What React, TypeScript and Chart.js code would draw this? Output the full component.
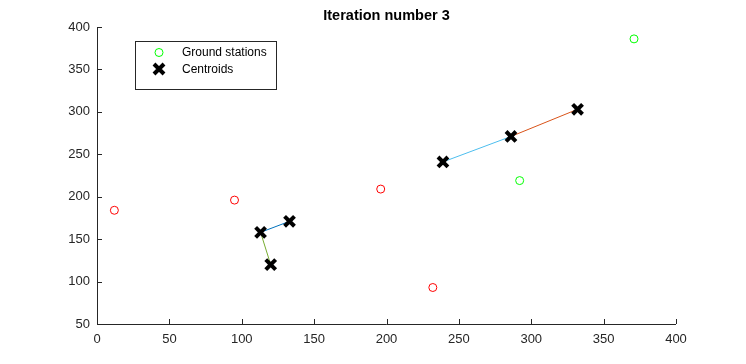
import React, { useEffect, useRef } from "react";
import { Chart, registerables } from "chart.js";

Chart.register(...registerables);

const TITLE = "Iteration number 3";
const X_TICKS = [0, 50, 100, 150, 200, 250, 300, 350, 400];
const Y_TICKS = [50, 100, 150, 200, 250, 300, 350, 400];

// Unlabelled (red) stations
const redX = [12, 95, 196, 232];
const redY = [184, 196, 209, 93];

// Ground stations (green)
const greenX = [292, 371];
const greenY = [219, 386];

// Centroids
const centroidX = [113, 133, 120, 239, 286, 332];
const centroidY = [158, 171, 120, 241, 271, 303];

// Centroid movement segments: [fromIndex, toIndex]
const segFrom = [0, 0, 3, 4];
const segTo = [1, 2, 4, 5];
const segColors = ["#0072BD", "#77AC30", "#4DBEEE", "#D95319"];

const LEGEND_LABELS = ["Ground stations", "Centroids"];

const FONT = "'Liberation Sans', Arial, Helvetica, sans-serif";
const AXIS_COLOR = "#262626";

const pts = (xs: number[], ys: number[]) => xs.map((x, i) => ({ x, y: ys[i] }));

const decorPlugin = {
  id: "decor",
  afterDraw(chart: any) {
    const ctx = chart.ctx;
    const xs = chart.scales.x;
    const ys = chart.scales.y;
    const area = chart.chartArea;
    ctx.save();
    // axes
    ctx.strokeStyle = AXIS_COLOR;
    ctx.lineWidth = 1;
    ctx.beginPath();
    ctx.moveTo(area.left + 0.5, area.top);
    ctx.lineTo(area.left + 0.5, area.bottom + 0.5);
    ctx.lineTo(area.right, area.bottom + 0.5);
    ctx.stroke();
    // inward ticks
    ctx.beginPath();
    X_TICKS.forEach((v) => {
      const px = Math.round(xs.getPixelForValue(v)) + 0.5;
      ctx.moveTo(px, area.bottom);
      ctx.lineTo(px, area.bottom - 5);
    });
    Y_TICKS.forEach((v) => {
      const py = Math.round(ys.getPixelForValue(v)) + 0.5;
      ctx.moveTo(area.left, py);
      ctx.lineTo(area.left + 5, py);
    });
    ctx.stroke();

    // title
    ctx.fillStyle = "#000";
    ctx.font = `bold 14.5px ${FONT}`;
    ctx.textAlign = "center";
    ctx.textBaseline = "middle";
    ctx.fillText(TITLE, (area.left + area.right) / 2, 16);

    // legend
    const bx = 135.5, by = 41.5, bw = 141, bh = 48;
    ctx.fillStyle = "#fff";
    ctx.fillRect(bx, by, bw, bh);
    ctx.strokeStyle = AXIS_COLOR;
    ctx.lineWidth = 1;
    ctx.strokeRect(bx, by, bw, bh);
    // green circle
    ctx.strokeStyle = "#00FF00";
    ctx.beginPath();
    ctx.arc(159, 52.5, 4, 0, Math.PI * 2);
    ctx.stroke();
    // X marker
    ctx.strokeStyle = "#000";
    ctx.lineWidth = 4;
    ctx.lineCap = "butt";
    ctx.beginPath();
    ctx.moveTo(154, 64);
    ctx.lineTo(164, 74);
    ctx.moveTo(164, 64);
    ctx.lineTo(154, 74);
    ctx.stroke();
    ctx.fillStyle = "#000";
    ctx.font = `12px ${FONT}`;
    ctx.textAlign = "left";
    ctx.textBaseline = "middle";
    ctx.fillText(LEGEND_LABELS[0], 182, 53);
    ctx.fillText(LEGEND_LABELS[1], 182, 70);
    ctx.restore();
  },
};

export default function App() {
  const ref = useRef<HTMLCanvasElement>(null);
  useEffect(() => {
    if (!ref.current) return;
    const lineSets = segFrom.map((f, i) => ({
      type: "scatter" as const,
      label: "seg" + i,
      data: [
        { x: centroidX[f], y: centroidY[f] },
        { x: centroidX[segTo[i]], y: centroidY[segTo[i]] },
      ],
      showLine: true,
      borderColor: segColors[i],
      borderWidth: 1,
      pointRadius: 0,
      order: 5,
    }));
    const chart = new Chart(ref.current, {
      type: "scatter",
      data: {
        datasets: [
          ...lineSets,
          {
            label: "Stations",
            data: pts(redX, redY),
            pointStyle: "circle",
            pointRadius: 4,
            borderColor: "#FF0000",
            backgroundColor: "rgba(0,0,0,0)",
            borderWidth: 1,
            order: 2,
          },
          {
            label: LEGEND_LABELS[0],
            data: pts(greenX, greenY),
            pointStyle: "circle",
            pointRadius: 4,
            borderColor: "#00FF00",
            backgroundColor: "rgba(0,0,0,0)",
            borderWidth: 1,
            order: 1,
          },
          {
            label: LEGEND_LABELS[1],
            data: pts(centroidX, centroidY),
            pointStyle: "crossRot",
            pointRadius: 7,
            borderColor: "#000",
            backgroundColor: "#000",
            borderWidth: 4,
            order: 0,
          },
        ],
      },
      options: {
        animation: false,
        responsive: true,
        maintainAspectRatio: false,
        layout: { padding: { left: 0, top: 27, right: 70, bottom: 0 } },
        plugins: {
          legend: { display: false },
          title: { display: false },
          tooltip: { enabled: false },
        },
        scales: {
          x: {
            type: "linear",
            min: 0,
            max: 400,
            afterBuildTicks: (s: any) => {
              s.ticks = X_TICKS.map((v) => ({ value: v }));
            },
            afterFit: (s: any) => {
              s.height = 40;
            },
            grid: { display: false, drawTicks: false },
            border: { display: false },
            ticks: {
              color: AXIS_COLOR,
              font: { family: FONT, size: 13 },
              padding: 8,
              maxRotation: 0,
            },
          },
          y: {
            type: "linear",
            min: 50,
            max: 400,
            afterBuildTicks: (s: any) => {
              s.ticks = Y_TICKS.map((v) => ({ value: v }));
            },
            afterFit: (s: any) => {
              s.width = 97;
            },
            grid: { display: false, drawTicks: false },
            border: { display: false },
            ticks: {
              color: AXIS_COLOR,
              font: { family: FONT, size: 13 },
              padding: 7,
            },
          },
        },
      },
      plugins: [decorPlugin],
    });
    return () => chart.destroy();
  }, []);
  return (
    <div style={{ position: "fixed", left: 0, top: 0, width: 746, height: 364, background: "#fff" }}>
      <canvas ref={ref} />
    </div>
  );
}
